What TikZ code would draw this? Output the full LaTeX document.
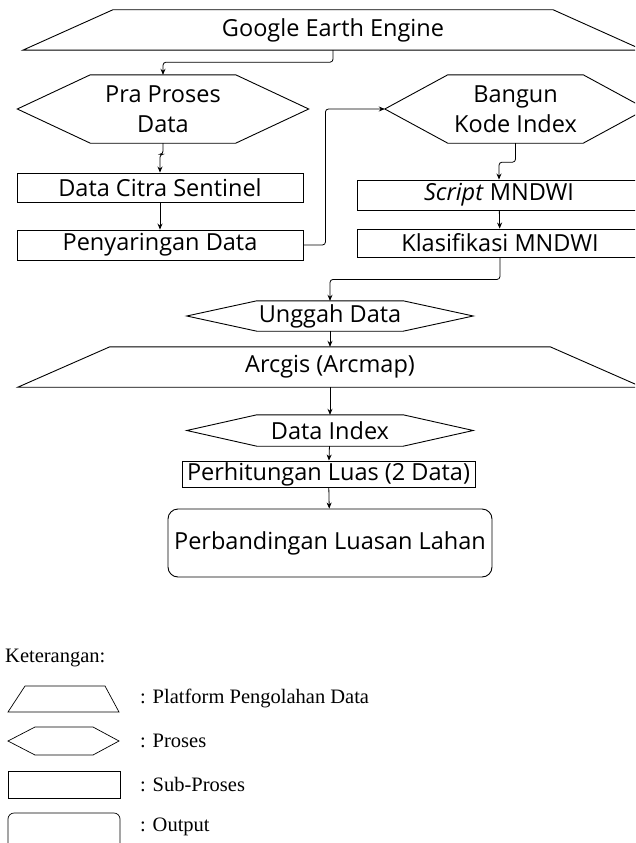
\documentclass[tikz,border=0pt]{standalone}
\usepackage{fontspec}
\setmainfont{Open Sans}
\newfontfamily\legendfont{Liberation Serif}
\usetikzlibrary{arrows.meta}
\tikzset{
  flow/.style = {font=\fontsize{23.5}{30}\selectfont, inner sep=0pt, align=center},
  subproses/.style = {flow, draw, line width=0.9pt},
  output/.style = {flow, draw, line width=0.9pt, rounded corners=10pt},
  shapeline/.style = {line width=0.9pt},
  conn/.style = {-{Stealth[length=6pt,width=5pt]}, line width=0.8pt, rounded corners=3pt},
  legend/.style = {font=\legendfont\fontsize{20.5}{24}\selectfont, inner sep=0pt, anchor=west},
  legendline/.style = {line width=0.7pt}
}

\begin{document}
\begin{tikzpicture}[x=1pt,y=-1pt]
  \useasboundingbox (0,0) rectangle (635,843);
  \clip (0,0) rectangle (635,843);
  % nodes of the flow
  \node[flow, minimum width=620pt, minimum height=40pt] (gee) at (333,30) {Google Earth Engine};
  \node[flow, minimum width=291pt, minimum height=68pt] (pra) at (163,109) {Pra Proses\\Data};
  \node[subproses, minimum width=286pt, minimum height=29pt] (citra) at (160,187.5) {Data Citra Sentinel};
  \node[subproses, minimum width=286pt, minimum height=30pt] (saring) at (160,245) {Penyaringan Data};
  \node[flow, minimum width=261pt, minimum height=68pt] (bangun) at (515.5,109) {Bangun\\Kode Index};
  \node[subproses, minimum width=284pt, minimum height=30pt] (script) at (499,195) {\textit{Script} MNDWI};
  \node[subproses, minimum width=286pt, minimum height=28pt] (klasifikasi) at (500,243) {Klasifikasi MNDWI};
  \node[flow, minimum width=286pt, minimum height=30pt] (unggah) at (330,316) {Unggah Data};
  \node[flow, minimum width=624pt, minimum height=40pt] (arcgis) at (330,367) {Arcgis (Arcmap)};
  \node[flow, minimum width=286pt, minimum height=31pt] (index) at (330,430.5) {Data Index};
  \node[subproses, minimum width=293pt, minimum height=26pt] (hitung) at (328.5,474) {Perhitungan Luas (2 Data)};
  \node[output, minimum width=324pt, minimum height=68pt] (banding) at (330,543) {Perbandingan Luasan Lahan};
  % platform and proses outlines
  \foreach \n/\d in {gee/90,arcgis/92} {
    \draw[shapeline] (\n.south west) -- ([xshift=\d pt]\n.north west)
      -- ([xshift=-\d pt]\n.north east) -- (\n.south east) -- cycle;
  }
  \foreach \n/\d in {pra/73,bangun/63,unggah/70,index/70} {
    \draw[shapeline] (\n.west) -- ([xshift=\d pt]\n.north west) -- ([xshift=-\d pt]\n.north east)
      -- (\n.east) -- ([xshift=-\d pt]\n.south east) -- ([xshift=\d pt]\n.south west) -- cycle;
  }
  % connectors
  \draw[conn] (gee.south) -- ++(0,12) -| (pra.north);
  \draw[conn] (pra.south) -- ++(0,11) -| (citra.north);
  \draw[conn] (citra) -- (saring);
  \draw[conn] (saring.east) -- ++(22,0) |- (bangun.west);
  \draw[conn] (bangun.south) -- ++(0,19) -| (script.north);
  \draw[conn] (script) -- (klasifikasi);
  \draw[conn] (klasifikasi.south) -- ++(0,22) -| (unggah.north);
  \draw[conn] (unggah) -- (arcgis);
  \draw[conn] (arcgis) -- (index);
  \draw[conn] (index) -- (hitung);
  \draw[conn] (hitung) -- (banding);
  % legend
  \node[legend] (ket) at (5,658) {Keterangan:};
  \draw[legendline] (8,712) -- (25,686) -- (105,686) -- (119,712) -- cycle;
  \node[legend] (lplatform) at (140,698) {: Platform Pengolahan Data};
  \draw[legendline] (8,741) -- (35,727) -- (93,727) -- (119,741) -- (93,755) -- (35,755) -- cycle;
  \node[legend] (lproses) at (140,741) {: Proses};
  \draw[legendline] (8,771) rectangle (120,798);
  \node[legend] (lsub) at (140,785) {: Sub-Proses};
  \draw[legendline, rounded corners=6pt] (8,813) rectangle (120,860);
  \node[legend] (loutput) at (140,827) {: Output};
\end{tikzpicture}
\end{document}
